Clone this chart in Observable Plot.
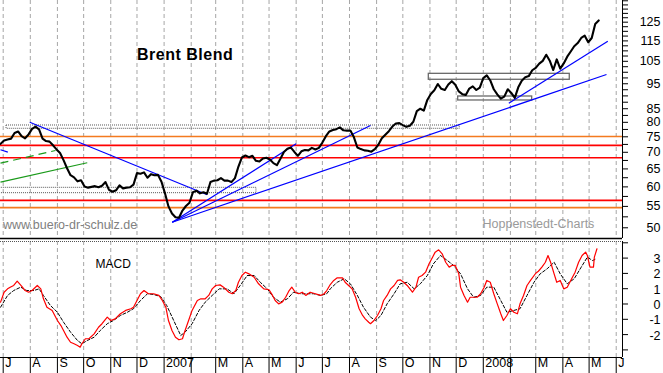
<!DOCTYPE html>
<html><head><meta charset="utf-8">
<script src="https://cdn.jsdelivr.net/npm/d3@7"></script>
<script src="https://cdn.jsdelivr.net/npm/@observablehq/plot@0.6"></script>
<style>
body{margin:0;background:#fff;}
#wrap{position:relative;width:663px;height:373px;overflow:hidden;font-family:Arial,"Liberation Sans",sans-serif;background:#fff;}
#wrap svg{display:block;}
.lbl{position:absolute;white-space:nowrap;line-height:1;}
</style></head><body>
<div id="wrap">
  <div id="main"></div>
  <div id="macd"></div>
  <div class="lbl" style="left:137px;top:46.5px;font-size:16px;font-weight:bold;letter-spacing:0.5px;">Brent Blend</div>
  <div class="lbl" style="left:3px;top:218.7px;font-size:12.5px;color:#808080;">www.buero-dr-schulz.de</div>
  <div class="lbl" style="left:482.5px;top:218.4px;font-size:12.5px;color:#9a9a9a;">Hoppenstedt-Charts</div>
  <div class="lbl" style="left:95.5px;top:258.1px;font-size:12px;color:#000;">MACD</div>
</div>
<script>
// ---------- data ----------
// Brent price, one reading every 4 days starting 2006-06-28 (day -3 relative to 2006-07-01)
const priceStartDay = -3;
const priceStepDays = 4;
const priceValues = [
72.7,73.8,74.1,74.4,76.3,76.8,75.2,74.5,75.8,77.7,78.5,77.5,74.4,73.6,73.4,72.2,70.9,69.8,67.6,65.2,
63.2,62.6,61.5,61.8,60.1,59.8,60.0,60.2,59.9,60.3,61.3,59.2,58.7,59.1,60.4,59.6,59.8,59.9,60.6,63.8,
63.6,64.0,62.5,63.5,63.2,63.3,61.4,58.3,55.0,53.3,52.4,52.3,54.0,55.1,55.9,58.6,59.0,58.3,58.6,58.2,
61.3,61.7,61.8,62.4,61.7,61.7,61.3,62.4,65.7,68.4,69.0,68.5,68.9,67.4,67.2,68.1,68.3,67.8,66.7,66.1,
68.0,70.1,71.1,71.5,70.1,68.9,70.3,70.7,70.6,71.4,70.9,71.4,73.1,75.2,76.8,77.3,77.6,78.2,77.2,77.1,
77.1,74.9,71.5,71.0,70.6,70.5,70.2,71.0,72.4,74.5,75.7,76.9,78.5,79.6,79.7,79.0,78.4,78.8,80.2,84.1,
85.0,84.3,88.4,90.8,92.3,94.9,92.9,92.4,94.7,96.1,94.6,91.8,90.7,90.4,93.0,93.9,92.4,93.4,97.4,98.6,
96.4,92.7,90.6,88.9,89.7,92.7,91.2,89.2,93.5,96.3,97.8,98.3,100.9,102.0,103.9,105.2,108.1,105.3,101.0,105.9,
101.6,104.0,107.2,109.7,112.3,113.9,116.5,117.7,114.3,116.5,124.0,126.0
];

// MACD line [day since 2006-07-01, value]
const macdLine = [
[-3,0.12],[1,0.77],[5,0.99],[8,1.10],[12,1.21],[16,1.49],[18,1.36],[22,1.10],[25,0.88],[29,0.77],[33,0.88],[39,1.21],[43,0.99],[46,0.34],[50,-0.21],[56,-0.42],[62,-1.08],[66,-1.41],[69,-1.73],[73,-2.17],[77,-2.50],[81,-2.60],[85,-2.71],[88,-2.82],[90,-2.60],[94,-2.27],[98,-2.27],[104,-1.95],[109,-1.52],[113,-1.29],[119,-0.86],[123,-1.08],[128,-0.97],[134,-0.64],[140,-0.42],[146,-0.31],[149,-0.21],[153,0.23],[157,0.67],[161,0.88],[166,0.67],[172,0.67],[178,0.56],[182,0.23],[186,-0.21],[189,-1.08],[193,-1.73],[197,-2.17],[201,-2.34],[205,-2.27],[208,-1.73],[212,-1.08],[216,-0.42],[222,0.23],[226,0.34],[231,0.34],[235,0.56],[239,0.99],[243,1.21],[248,1.25],[252,1.10],[258,0.77],[262,0.67],[266,0.88],[269,1.42],[273,1.86],[277,2.08],[281,1.97],[287,1.75],[292,1.32],[298,0.99],[304,0.93],[308,0.56],[311,0.23],[315,0.01],[319,0.12],[323,0.44],[327,0.88],[330,1.10],[334,0.77],[338,0.67],[342,0.77],[346,0.56],[351,0.77],[357,0.67],[363,0.56],[367,0.67],[370,0.88],[374,1.27],[378,1.54],[382,1.71],[388,1.71],[391,1.42],[395,1.21],[399,0.99],[403,0.44],[407,-0.31],[411,-0.75],[414,-0.97],[418,-1.19],[420,-1.29],[424,-1.08],[428,-0.75],[432,-0.31],[435,0.23],[439,0.56],[443,0.99],[447,1.21],[451,1.54],[454,1.58],[458,1.42],[462,1.21],[468,0.77],[472,1.10],[475,1.75],[479,1.86],[483,2.08],[487,2.63],[491,3.06],[494,3.39],[498,3.54],[502,3.28],[506,2.73],[510,2.41],[513,2.52],[517,2.52],[521,1.97],[523,1.10],[527,0.56],[531,0.12],[534,0.44],[538,0.44],[542,0.44],[546,0.67],[550,1.10],[553,1.54],[557,1.42],[561,0.67],[565,0.01],[569,-0.64],[572,-1.08],[576,-0.75],[580,-0.31],[584,-0.54],[588,-0.64],[591,0.01],[595,0.56],[599,1.21],[603,1.54],[609,2.01],[612,2.14],[616,2.41],[620,2.73],[623,3.17],[626,2.73],[630,1.97],[633,1.42],[637,1.54],[641,0.99],[645,1.10],[649,1.54],[654,2.08],[658,2.73],[662,3.17],[666,3.39],[668,3.17],[671,2.41],[675,2.41],[676,3.06],[679,3.61]
];
// Signal line [day, value]
const signalLine = [
[-3,-0.21],[5,0.56],[12,0.88],[20,1.10],[27,0.88],[35,0.88],[41,0.99],[46,0.56],[54,-0.10],[62,-0.54],[69,-1.19],[77,-1.84],[85,-2.39],[90,-2.60],[96,-2.39],[104,-2.17],[111,-1.73],[119,-1.29],[126,-1.08],[134,-0.75],[142,-0.54],[149,-0.31],[157,0.23],[165,0.67],[172,0.62],[180,0.49],[187,-0.10],[195,-1.08],[203,-2.06],[208,-1.84],[216,-1.29],[224,-0.42],[231,0.12],[239,0.56],[247,0.99],[256,0.99],[264,0.67],[271,1.21],[279,1.86],[287,1.86],[294,1.42],[302,0.99],[309,0.44],[317,0.12],[325,0.34],[332,0.77],[340,0.67],[348,0.67],[355,0.67],[363,0.56],[370,0.67],[374,0.99],[382,1.42],[390,1.65],[397,1.32],[405,0.56],[412,-0.21],[420,-0.86],[426,-1.08],[432,-0.75],[439,0.01],[447,0.67],[454,1.32],[462,1.42],[470,0.99],[477,1.32],[485,1.86],[492,2.63],[500,3.17],[508,2.84],[515,2.52],[523,1.97],[531,0.99],[538,0.44],[546,0.56],[553,1.10],[561,1.10],[569,0.23],[576,-0.54],[584,-0.42],[591,-0.31],[599,0.56],[607,1.42],[614,1.97],[622,2.30],[630,2.73],[637,1.97],[645,1.32],[653,1.65],[661,2.41],[668,3.06],[674,2.84],[678,2.95]
];

// horizontal support / resistance levels
const redLevels = [72.2, 68.3, 56.5];
const orangeLevels = [75.1, 54.7];

// zones [startDay, endDay, low, high]
const zonesDotted = [[3.8, 522.1, 77.73, 78.88], [-4, 289.6, 58.34, 59.75]];
const zonesSolid = [[486.7, 647.9, 96.7, 99.3], [520.3, 604.9, 88.18, 89.76]];

// trend lines [day1, price1, day2, price2]
const blueTrends = [
  [30.4, 80.05, 233.3, 57.92],
  [-3.1, 70.8, 5.3, 70.03],
  [193.3, 51.26, 335.0, 72.7],
  [193.3, 51.26, 420.0, 78.88],
  [193.3, 51.26, 689.9, 99.0],
  [578.2, 87.1, 691.4, 114.8]
];
const greenSolid = [[-3.1, 61.27, 96.1, 66.8]];
const greenDashed = [[-3.1, 66.68, 59.8, 70.56]];

// axis ticks
const monthLabels = ["J","A","S","O","N","D","2007","","M","A","M","J","J","A","S","O","N","D","2008","","M","A","M","J"];
const priceTickLabels = [50,55,60,65,70,75,80,85,95,105,115,125];
const priceTickStep = 2.5;
const macdTickLabels = [3,2,1,0,-1,-2];
const macdTicks = [-3,-2,-1,0,1,2,3,4];

// ---------- helpers ----------
const base = Date.UTC(2006, 6, 1);
const day = d => new Date(base + d * 864e5);
const months = d3.utcMonth.range(new Date(Date.UTC(2006,6,1)), new Date(Date.UTC(2008,6,1)));
const xDomain = [day(-3.09), day(708.2)];
const yDomain = [47.67, 137.68];
const macdDomain = [-3.497, 4.085];

const priceData = priceValues.map((v, i) => ({date: day(priceStartDay + priceStepDays * i), v}));
const minorTicks = d3.range(0, 60).map(i => 47.5 + i * priceTickStep).filter(v => v > yDomain[0] && v < yDomain[1]);

const font = "Arial, 'Liberation Sans', sans-serif";
const gridStyle = {stroke: "#a6a6a6", strokeDasharray: "4,3", strokeWidth: 1};

const main = Plot.plot({
  width: 663, height: 241,
  marginLeft: 0, marginRight: 41, marginTop: 0, marginBottom: 3,
  x: {type: "utc", domain: xDomain, axis: null},
  y: {type: "log", domain: yDomain, axis: null, label: null},
  style: {background: "transparent", fontFamily: font, fontSize: "12.5px", color: "black", overflow: "visible"},
  marks: [
    Plot.ruleX(months, gridStyle),
    Plot.ruleY(orangeLevels, {stroke: "#f47a1f", strokeWidth: 1.6}),
    Plot.ruleY(redLevels, {stroke: "#ff0000", strokeWidth: 1.6}),
    Plot.rect(zonesDotted, {x1: d => day(d[0]), x2: d => day(d[1]), y1: d => d[2], y2: d => d[3], fill: "none", stroke: "#555", strokeWidth: 1, strokeDasharray: "1,1"}),
    Plot.rect(zonesSolid, {x1: d => day(d[0]), x2: d => day(d[1]), y1: d => d[2], y2: d => d[3], fill: "none", stroke: "#6a6a6a", strokeWidth: 1.3}),
    Plot.link(greenSolid, {x1: d => day(d[0]), y1: d => d[1], x2: d => day(d[2]), y2: d => d[3], stroke: "#1a9a1a", strokeWidth: 1.2}),
    Plot.link(greenDashed, {x1: d => day(d[0]), y1: d => d[1], x2: d => day(d[2]), y2: d => d[3], stroke: "#1a9a1a", strokeWidth: 1.2, strokeDasharray: "8,5"}),
    Plot.link(blueTrends, {x1: d => day(d[0]), y1: d => d[1], x2: d => day(d[2]), y2: d => d[3], stroke: "#0000ff", strokeWidth: 1.2}),
    Plot.line(priceData, {x: "date", y: "v", stroke: "black", strokeWidth: 2.1, strokeLinejoin: "round"}),
    Plot.ruleY([yDomain[0]], {stroke: "black", strokeWidth: 1.5}),
    Plot.ruleX([xDomain[1]], {stroke: "black", strokeWidth: 1}),
    Plot.axisY({anchor: "right", ticks: minorTicks, tickSize: 5, tickFormat: () => "", label: null}),
    Plot.text(priceTickLabels, {y: d => d, text: d => String(d), frameAnchor: "right", dx: 38, textAnchor: "end", fontSize: 12.5, fill: "black"})
  ]
});
document.getElementById("main").appendChild(main);

const macdPlot = Plot.plot({
  width: 663, height: 132,
  marginLeft: 0, marginRight: 41, marginTop: 0, marginBottom: 16,
  x: {type: "utc", domain: xDomain, axis: null, label: null},
  y: {domain: macdDomain, axis: null, label: null},
  style: {background: "transparent", fontFamily: font, fontSize: "12.5px", color: "black", overflow: "visible"},
  marks: [
    Plot.ruleX(months, gridStyle),
    Plot.ruleY([macdDomain[1]], {stroke: "#555", strokeDasharray: "1,1"}),
    Plot.line(signalLine, {x: d => day(d[0]), y: d => d[1], stroke: "black", strokeWidth: 1, strokeDasharray: "3,2"}),
    Plot.line(macdLine, {x: d => day(d[0]), y: d => d[1], stroke: "#ff0000", strokeWidth: 1.2, strokeLinejoin: "round"}),
    Plot.ruleY([macdDomain[0]], {stroke: "black", strokeWidth: 1}),
    Plot.ruleX([xDomain[1]], {stroke: "black", strokeWidth: 1}),
    Plot.axisY({anchor: "right", ticks: macdTicks, tickSize: 5, tickFormat: () => "", label: null}),
    Plot.text(macdTickLabels, {y: d => d, text: d => String(d), frameAnchor: "right", dx: 38, dy: 1, textAnchor: "end", fontSize: 12.5, fill: "black"}),
    Plot.axisX({anchor: "bottom", ticks: months, tickSize: 16, tickFormat: () => "", label: null}),
    Plot.text(months, {x: d => d, text: (d, i) => monthLabels[i], frameAnchor: "bottom", dy: 9, dx: 2, textAnchor: "start", fontSize: 12.5, fill: "black"})
  ]
});
document.getElementById("macd").appendChild(macdPlot);
</script>
</body></html>
